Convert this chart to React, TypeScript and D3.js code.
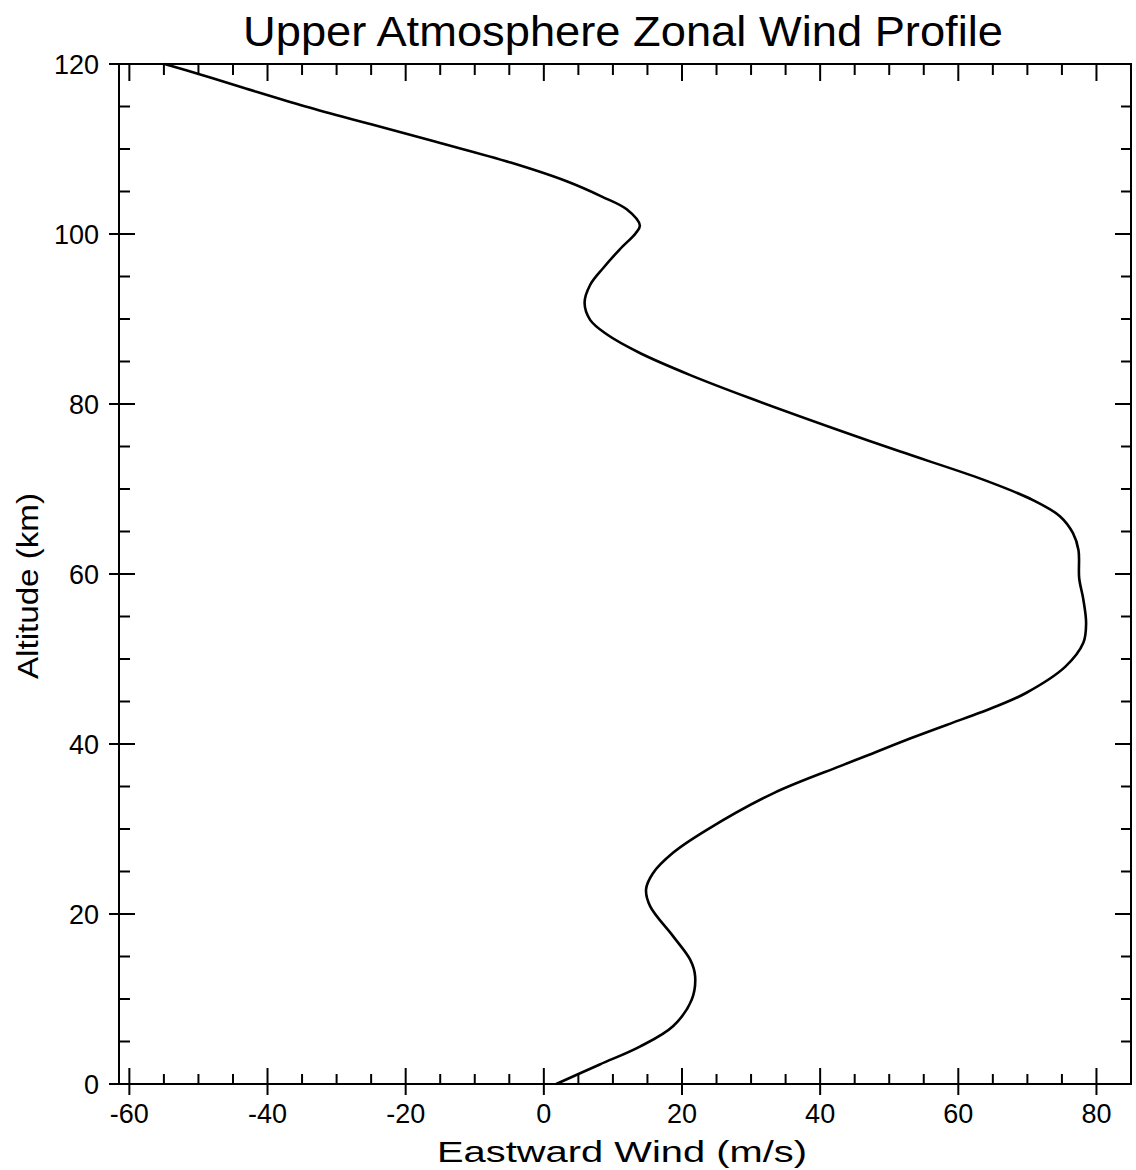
import React from 'react';
import * as d3 from 'd3';

// Altitude (km) and eastward wind (m/s)
const altitudes = [0, 2.3, 4.4, 6.8, 9.9, 12.7, 14.6, 17.4, 20.9, 22.9, 24.8, 27.2, 29.9, 34.2, 37.4, 38.7, 40.7, 42.9, 44.2, 46.0, 49.1, 51.9, 54.2, 57.0, 59.5, 62.8, 64.8, 66.8, 68.7, 71.1, 74.4, 77.0, 80.7, 83.4, 86.0, 88.2, 89.9, 91.9, 94.0, 96.0, 98.2, 100.1, 101.0, 102.9, 104.4, 106.2, 108.4, 110.7, 112.9, 115.0, 117.2, 118.7, 120];
const winds = [1.8, 8.1, 13.9, 18.7, 21.4, 21.9, 21.2, 18.7, 15.4, 14.8, 15.8, 18.7, 23.6, 33.2, 42.9, 47.0, 53.2, 60.5, 64.8, 69.8, 75.5, 78.1, 78.5, 78.1, 77.5, 77.4, 76.6, 74.7, 70.8, 63.6, 51.6, 42.4, 29.8, 21.2, 13.9, 9.1, 6.7, 5.9, 6.7, 8.6, 11.0, 13.3, 13.9, 12.0, 8.4, 3.3, -4.8, -15.0, -25.0, -34.5, -43.5, -49.5, -54.9];

const xMajorTicks = [-60, -40, -20, 0, 20, 40, 60, 80];
const xMinorTicks = [-55, -50, -45, -35, -30, -25, -15, -10, -5, 5, 10, 15, 25, 30, 35, 45, 50, 55, 65, 70, 75];
const yMajorTicks = [0, 20, 40, 60, 80, 100, 120];
const yMinorTicks = [5, 10, 15, 25, 30, 35, 45, 50, 55, 65, 70, 75, 85, 90, 95, 105, 110, 115];

const title = 'Upper Atmosphere Zonal Wind Profile';
const xLabel = 'Eastward Wind (m/s)';
const yLabel = 'Altitude (km)';

const FONT = '"Liberation Sans", Arial, Helvetica, sans-serif';

export default function App() {
  const W = 1136, H = 1170;
  const left = 119, right = 1131, top = 64, bottom = 1084;
  const x = d3.scaleLinear().domain([-61.5, 85]).range([left, right]);
  const y = d3.scaleLinear().domain([0, 120]).range([bottom, top]);

  const data = altitudes.map((a, i) => ({ a, u: winds[i] }));
  const line = d3.line<{ a: number; u: number }>()
    .x(d => x(d.u))
    .y(d => y(d.a))
    .curve(d3.curveCatmullRom.alpha(0.5));

  const sw = 2;
  return (
    <svg width={W} height={H} style={{ position: 'absolute', left: 0, top: 0, background: '#fff' }}>
      <rect x={0} y={0} width={W} height={H} fill="#fff" />
      <text x={623} y={46} textAnchor="middle" fontFamily={FONT} fontSize={43} textLength={760} lengthAdjust="spacingAndGlyphs" fill="#000">{title}</text>

      {/* frame */}
      <rect x={left} y={top} width={right - left} height={bottom - top} fill="none" stroke="#000" strokeWidth={sw} />

      {/* bottom & top ticks */}
      {xMajorTicks.map(t => (
        <g key={'xM' + t}>
          <line x1={x(t)} x2={x(t)} y1={bottom + 11} y2={bottom - 16} stroke="#000" strokeWidth={sw} />
          <line x1={x(t)} x2={x(t)} y1={top} y2={top + 17} stroke="#000" strokeWidth={sw} />
          <text x={x(t)} y={1123} textAnchor="middle" fontFamily={FONT} fontSize={27} fill="#000">{t}</text>
        </g>
      ))}
      {xMinorTicks.map(t => (
        <g key={'xm' + t}>
          <line x1={x(t)} x2={x(t)} y1={bottom} y2={bottom - 10} stroke="#000" strokeWidth={sw} />
          <line x1={x(t)} x2={x(t)} y1={top} y2={top + 11} stroke="#000" strokeWidth={sw} />
        </g>
      ))}

      {/* left & right ticks */}
      {yMajorTicks.map(t => (
        <g key={'yM' + t}>
          <line x1={left - 10} x2={left + 16} y1={y(t)} y2={y(t)} stroke="#000" strokeWidth={sw} />
          <line x1={right} x2={right - 16} y1={y(t)} y2={y(t)} stroke="#000" strokeWidth={sw} />
          <text x={99} y={y(t) + 10} textAnchor="end" fontFamily={FONT} fontSize={27} fill="#000">{t}</text>
        </g>
      ))}
      {yMinorTicks.map(t => (
        <g key={'ym' + t}>
          <line x1={left} x2={left + 11} y1={y(t)} y2={y(t)} stroke="#000" strokeWidth={sw} />
          <line x1={right} x2={right - 10} y1={y(t)} y2={y(t)} stroke="#000" strokeWidth={sw} />
        </g>
      ))}

      {/* curve */}
      <path d={line(data) || ''} fill="none" stroke="#000" strokeWidth={2.6} strokeLinejoin="round" />

      {/* axis labels */}
      <text x={622} y={1162} textAnchor="middle" fontFamily={FONT} fontSize={30} textLength={370} lengthAdjust="spacingAndGlyphs" fill="#000">{xLabel}</text>
      <text transform={`translate(38,586) rotate(-90)`} textAnchor="middle" fontFamily={FONT} fontSize={30} textLength={186} lengthAdjust="spacingAndGlyphs" fill="#000">{yLabel}</text>
    </svg>
  );
}
